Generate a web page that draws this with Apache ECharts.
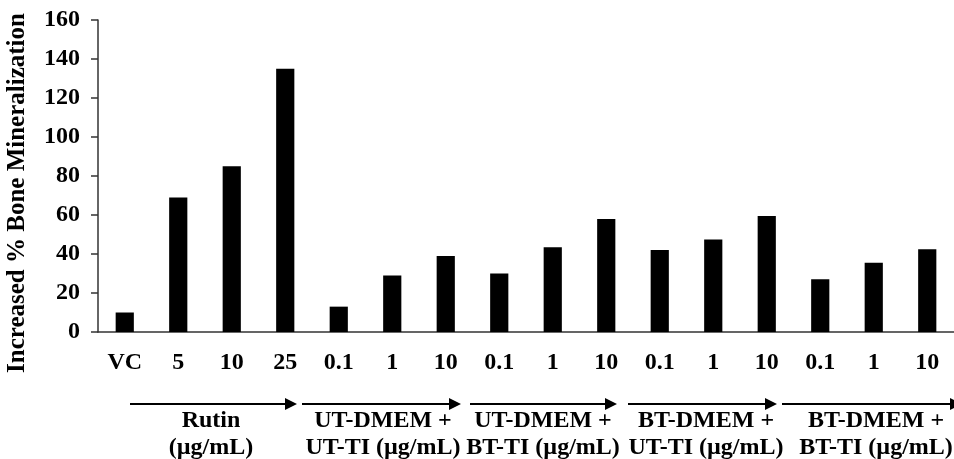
<!DOCTYPE html>
<html><head><meta charset="utf-8">
<script src="https://cdn.jsdelivr.net/npm/echarts@6/dist/echarts.min.js"></script>
<style>html,body{margin:0;padding:0;background:#fff}#c{width:954px;height:459px}</style>
</head><body><div id="c"></div>
<script>
const categories = ['VC','5','10','25','0.1','1','10','0.1','1','10','0.1','1','10','0.1','1','10'];
const values = [10, 69, 85, 135, 13, 29, 39, 30, 43.5, 58, 42, 47.5, 59.5, 27, 35.5, 42.5];
const yTicks = { min: 0, max: 160, interval: 20 };
const groupLabels = ['Rutin\n(µg/mL)', 'UT-DMEM +\nUT-TI (µg/mL)', 'UT-DMEM +\nBT-TI (µg/mL)', 'BT-DMEM +\nUT-TI (µg/mL)', 'BT-DMEM +\nBT-TI (µg/mL)'];
const yName = 'Increased % Bone Mineralization';

const FONT = '"Liberation Serif", "Times New Roman", serif';
const chart = echarts.init(document.getElementById('c'), null, {renderer: 'canvas'});

// annotation arrows (decoration) x-ranges and label centres
const arrows = [[130, 297], [302, 461], [470, 617], [628, 777], [782, 962]];
const labelX = [211, 383, 543, 706, 876];
const arrowY = 404;
const graphics = [];
arrows.forEach(function (a) {
  graphics.push({type: 'line', shape: {x1: a[0], y1: arrowY, x2: a[1] - 10, y2: arrowY}, style: {stroke: '#000', lineWidth: 2}, silent: true});
  graphics.push({type: 'polygon', shape: {points: [[a[1] - 12, arrowY - 6], [a[1], arrowY], [a[1] - 12, arrowY + 6]]}, style: {fill: '#000'}, silent: true});
});
groupLabels.forEach(function (t, i) {
  graphics.push({type: 'text', x: labelX[i], y: 434, style: {text: t, font: 'bold 24px ' + FONT, fill: '#000', align: 'center', verticalAlign: 'middle', lineHeight: 27}, silent: true});
});
graphics.push({type: 'text', x: 18, y: 193, rotation: Math.PI / 2, style: {text: yName, font: 'bold 25px ' + FONT, fill: '#000', align: 'center', verticalAlign: 'middle'}, silent: true});

chart.setOption({
  animation: false,
  backgroundColor: '#fff',
  grid: {left: 98, right: 0, top: 20, bottom: 127},
  xAxis: {
    type: 'category', data: categories, boundaryGap: true,
    axisLine: {lineStyle: {color: '#333', width: 1.5}},
    axisTick: {show: false},
    axisLabel: {color: '#000', fontFamily: FONT, fontWeight: 'bold', fontSize: 24, margin: 19, interval: 0}
  },
  yAxis: {
    type: 'value', min: yTicks.min, max: yTicks.max, interval: yTicks.interval,
    axisLine: {show: true, lineStyle: {color: '#333', width: 1.5}},
    axisTick: {show: true, length: 7, lineStyle: {color: '#333', width: 1.5}},
    splitLine: {show: false},
    axisLabel: {color: '#000', fontFamily: FONT, fontWeight: 'bold', fontSize: 24, margin: 18}
  },
  series: [{type: 'bar', data: values, barWidth: '34%', itemStyle: {color: '#000'}}],
  graphic: graphics
});
</script></body></html>
